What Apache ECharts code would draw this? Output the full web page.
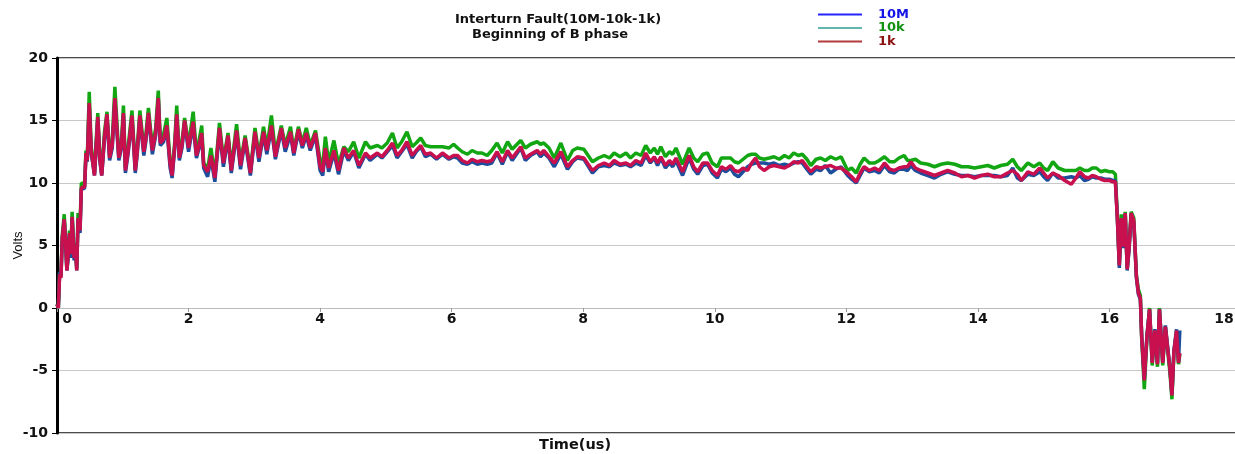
<!DOCTYPE html>
<html><head><meta charset="utf-8">
<script src="https://cdn.jsdelivr.net/npm/echarts@6/dist/echarts.min.js"></script>
<style>html,body{margin:0;padding:0;background:#fff;overflow:hidden}#c{width:1241px;height:454px}</style>
</head><body><div id="c"></div>
<script>
const titleLine1 = 'Interturn Fault(10M-10k-1k)';
const titleLine2 = 'Beginning of B phase';
const xName = 'Time(us)';
const yName = 'Volts';
const seriesNames = ['10M', '10k', '1k'];

const time = [
0.00,0.02,0.04,0.06,0.08,0.11,0.13,0.15,0.17,0.19,
0.21,0.23,0.26,0.28,0.30,0.32,0.35,0.37,0.42,0.44,
0.46,0.49,0.52,0.54,0.57,0.59,0.62,0.65,0.68,0.72,
0.76,0.80,0.84,0.88,0.94,0.98,1.01,1.04,1.08,1.14,
1.19,1.22,1.26,1.32,1.35,1.39,1.45,1.50,1.54,1.57,
1.62,1.67,1.72,1.75,1.79,1.82,1.86,1.90,1.94,2.00,
2.07,2.12,2.16,2.20,2.23,2.29,2.34,2.40,2.47,2.53,
2.60,2.65,2.73,2.79,2.86,2.94,3.01,3.07,3.14,3.19,
3.26,3.32,3.41,3.47,3.55,3.60,3.67,3.73,3.79,3.85,
3.93,4.00,4.04,4.08,4.13,4.21,4.28,4.36,4.43,4.51,
4.59,4.69,4.76,4.87,4.94,5.02,5.10,5.17,5.24,5.32,
5.40,5.46,5.53,5.60,5.68,5.77,5.86,5.96,6.03,6.09,
6.16,6.24,6.31,6.39,6.46,6.54,6.61,6.69,6.77,6.85,
6.92,7.05,7.12,7.20,7.30,7.35,7.40,7.48,7.56,7.66,
7.76,7.84,7.91,8.01,8.14,8.23,8.32,8.40,8.47,8.56,
8.65,8.72,8.80,8.88,8.95,9.02,9.08,9.13,9.18,9.25,
9.31,9.36,9.41,9.51,9.61,9.68,9.74,9.82,9.89,9.96,
10.04,10.10,10.17,10.24,10.30,10.36,10.43,10.50,10.56,10.62,
10.68,10.75,10.83,10.90,10.98,11.06,11.13,11.20,11.27,11.33,
11.40,11.46,11.54,11.61,11.68,11.76,11.84,11.92,12.02,12.08,
12.15,12.21,12.27,12.35,12.43,12.50,12.58,12.66,12.73,12.80,
12.88,12.93,12.98,13.05,13.13,13.24,13.34,13.44,13.54,13.65,
13.75,13.85,13.95,14.05,14.15,14.25,14.35,14.45,14.53,14.60,
14.66,14.76,14.85,14.94,15.00,15.06,15.14,15.22,15.32,15.42,
15.49,15.55,15.62,15.68,15.74,15.80,15.87,15.93,16.00,16.05,
16.09,16.12,16.15,16.18,16.21,16.24,16.27,16.30,16.33,16.37,
16.41,16.44,16.47,16.49,16.53,16.57,16.61,16.65,16.69,16.73,
16.76,16.81,16.85,16.88,16.92,16.95,16.98,17.02,17.05,17.07
];

const v1k = [
0.3,0.0,2.7,2.4,5.6,7.1,5.3,3.0,4.2,6.0,
4.3,7.3,4.0,5.0,3.0,7.2,6.2,9.6,9.7,12.4,
11.8,16.4,12.6,11.8,10.6,12.5,15.3,12.0,10.6,13.6,
15.5,12.0,13.0,16.8,12.0,13.0,15.6,11.0,12.5,15.4,
11.0,12.5,15.4,12.5,13.5,15.6,12.6,14.0,16.8,13.2,
13.5,14.6,11.5,10.6,13.0,15.5,12.0,13.0,15.0,12.8,
14.9,12.2,13.0,14.0,11.4,10.9,12.2,10.4,14.4,11.6,
13.8,11.0,14.2,11.4,13.6,10.8,14.1,12.0,14.1,12.6,
14.6,12.1,14.4,12.8,14.1,12.4,14.3,13.0,14.0,12.8,
14.0,11.3,10.9,12.8,11.2,12.6,11.0,12.8,12.0,12.6,
11.4,12.4,12.0,12.4,12.1,12.6,13.2,12.2,12.6,13.3,
12.2,12.6,13.0,12.3,12.4,12.0,12.4,12.0,12.2,12.2,
11.8,11.6,11.9,11.7,11.8,11.7,11.8,12.5,11.7,12.6,
12.0,12.9,12.0,12.3,12.6,12.3,12.6,12.1,11.6,12.5,
11.3,11.8,12.1,12.0,11.0,11.4,11.6,11.4,11.8,11.5,
11.6,11.4,11.8,11.6,12.4,11.7,12.1,11.6,12.1,11.4,
11.8,11.5,12.0,10.9,12.2,11.3,10.9,11.6,11.6,11.0,
10.6,11.3,11.1,11.4,11.0,10.9,11.2,11.0,11.6,12.0,
11.3,11.0,11.3,11.4,11.3,11.2,11.4,11.7,11.6,11.8,
11.3,10.9,11.3,11.2,11.3,11.4,11.2,11.2,10.8,10.5,
10.1,10.8,11.3,11.0,11.2,11.0,11.6,11.1,11.0,11.2,
11.3,11.3,11.7,11.2,11.0,10.8,10.6,10.8,11.0,10.8,
10.5,10.6,10.4,10.6,10.7,10.5,10.5,10.8,11.0,10.7,
10.2,10.9,10.7,11.2,10.8,10.4,10.8,10.6,10.2,9.9,
10.4,10.9,10.5,10.4,10.6,10.5,10.3,10.2,10.2,10.1,
10.1,7.2,3.4,7.2,4.9,7.6,3.1,4.9,7.6,7.0,
2.5,1.2,0.8,-2.3,-5.8,-2.3,-0.1,-4.4,-1.8,-4.5,
-0.1,-4.4,-1.5,-1.4,-4.9,-7.0,-3.5,-1.8,-4.4,-3.6
];

const v10k = [
0.3,0.0,2.8,2.6,5.8,7.5,5.5,3.1,4.4,6.2,
4.5,7.7,4.3,5.2,3.2,7.6,6.5,10.0,9.9,12.6,
12.0,17.3,12.9,12.0,10.8,12.9,15.6,12.3,10.8,14.0,
15.7,12.2,13.4,17.7,12.2,13.3,16.2,11.2,12.8,15.8,
11.2,12.8,15.8,12.7,13.8,16.0,12.8,14.4,17.4,13.4,
13.9,15.2,11.7,10.8,13.3,16.2,12.2,13.3,15.2,13.0,
15.7,12.4,13.4,14.6,11.6,11.1,12.8,10.6,14.8,11.8,
14.0,11.2,14.7,11.6,13.8,11.0,14.4,12.2,14.5,12.8,
15.4,12.4,14.6,13.0,14.5,12.6,14.5,13.2,14.4,13.0,
14.2,11.8,11.4,13.7,11.6,13.4,11.5,12.9,12.5,13.3,
12.0,13.3,12.8,13.0,12.8,13.2,14.0,12.8,13.3,14.1,
12.9,13.2,13.6,13.0,12.9,12.9,12.9,12.8,13.1,12.8,
12.5,12.3,12.6,12.4,12.4,12.2,12.6,13.2,12.4,13.3,
12.7,13.4,12.8,13.1,13.3,13.1,13.2,12.8,12.0,13.2,
11.8,12.6,12.8,12.7,11.7,12.0,12.2,12.0,12.4,12.1,
12.4,12.0,12.4,12.2,13.0,12.4,12.8,12.3,12.9,12.1,
12.5,12.3,12.8,11.5,12.8,12.0,11.7,12.3,12.4,11.6,
11.3,12.0,12.0,12.0,11.7,11.6,11.9,12.2,12.3,12.3,
12.0,11.9,12.0,12.1,11.9,12.2,12.0,12.4,12.2,12.3,
11.9,11.4,11.9,12.0,11.8,12.1,11.9,12.1,11.0,11.2,
10.8,11.5,12.0,11.6,11.6,11.8,12.1,11.7,11.7,12.0,
12.2,11.8,11.8,11.9,11.6,11.5,11.3,11.5,11.6,11.5,
11.3,11.3,11.2,11.3,11.4,11.2,11.4,11.5,11.9,11.3,
11.0,11.6,11.3,11.6,11.2,11.0,11.7,11.2,11.0,11.0,
11.0,11.2,11.0,11.0,11.2,11.2,10.9,11.0,10.9,10.9,
10.7,7.4,3.5,7.5,5.0,7.7,3.2,5.0,7.7,7.2,
2.6,1.5,1.0,-2.4,-6.5,-2.4,0.0,-4.6,-1.8,-4.7,
0.0,-4.6,-1.5,-1.4,-5.2,-7.3,-3.6,-1.9,-4.5,-3.7
];

const v10M = [
0.3,0.0,2.9,2.5,5.5,7.0,5.2,3.0,4.0,5.9,
4.0,7.2,3.8,4.8,3.0,7.1,6.0,9.5,9.6,12.2,
11.7,16.2,12.3,11.7,10.6,12.4,15.1,11.8,10.6,13.4,
15.3,11.8,12.8,16.6,11.8,12.8,15.4,10.8,12.3,15.2,
10.8,12.3,15.2,12.2,13.3,15.4,12.3,13.8,16.6,13.0,
13.3,14.4,11.2,10.4,12.8,15.3,11.8,12.8,14.8,12.5,
14.7,12.0,12.8,13.8,11.2,10.5,12.0,10.1,14.2,11.3,
13.6,10.8,14.0,11.1,13.4,10.6,13.9,11.7,13.9,12.3,
14.4,11.9,14.2,12.5,13.9,12.2,14.1,12.8,13.8,12.6,
13.8,11.0,10.6,12.6,10.9,12.4,10.7,12.6,11.8,12.5,
11.2,12.3,11.8,12.3,12.0,12.5,13.0,12.0,12.5,13.1,
12.0,12.5,12.9,12.1,12.3,11.9,12.3,11.9,12.1,12.0,
11.6,11.5,11.7,11.5,11.6,11.5,11.6,12.4,11.5,12.5,
11.8,12.8,11.8,12.2,12.5,12.1,12.4,12.0,11.3,12.3,
11.1,11.7,12.0,11.9,10.8,11.3,11.4,11.3,11.6,11.4,
11.5,11.3,11.6,11.4,12.2,11.6,12.0,11.4,12.0,11.2,
11.6,11.3,11.8,10.6,12.0,11.1,10.7,11.4,11.5,10.8,
10.4,11.1,10.9,11.2,10.7,10.5,10.9,11.3,11.5,11.6,
11.6,11.6,11.5,11.6,11.4,11.5,11.4,11.6,11.7,11.6,
11.1,10.7,11.1,11.0,11.4,10.8,11.1,11.3,10.6,10.3,
10.0,10.6,11.2,10.9,11.0,10.8,11.4,10.9,10.8,11.1,
11.1,11.0,11.4,11.0,10.8,10.6,10.4,10.7,10.9,10.7,
10.6,10.6,10.5,10.6,10.6,10.6,10.5,10.6,11.2,10.4,
10.2,10.7,10.6,10.9,10.5,10.2,10.8,10.4,10.4,10.5,
10.4,10.6,10.2,10.3,10.5,10.4,10.4,10.3,10.3,10.2,
10.2,7.2,3.2,7.0,4.8,7.5,3.0,4.8,7.5,6.8,
2.4,1.1,0.7,-2.2,-5.7,-2.2,-0.1,-4.3,-1.7,-4.4,
-0.1,-4.3,-1.4,-1.3,-4.8,-6.9,-3.4,-1.7,-4.3,-1.8
];

const BOLD = 'DejaVu Sans, Verdana, sans-serif';
const REG = 'Liberation Sans, Arial, sans-serif';
function pairs(vals) {
  const n = Math.min(time.length, vals.length);
  const out = [];
  for (let i = 0; i < n; i++) out.push([time[i], vals[i]]);
  return out;
}

const chart = echarts.init(document.getElementById('c'), null, { renderer: 'canvas' });
chart.setOption({
  animation: false,
  backgroundColor: '#ffffff',
  title: [
    { text: titleLine1, left: 455, top: 13, padding: 0,
      textStyle: { fontFamily: BOLD, fontWeight: 'bold', fontSize: 13, color: '#111' } },
    { text: titleLine2, left: 472, top: 28, padding: 0,
      textStyle: { fontFamily: BOLD, fontWeight: 'bold', fontSize: 13, color: '#111' } },
    { text: xName, left: 539, top: 438, padding: 0,
      textStyle: { fontFamily: BOLD, fontWeight: 'bold', fontSize: 14.5, color: '#111' } }
  ],
  legend: {
    orient: 'vertical', left: 818, top: 8, padding: 0,
    itemWidth: 44, itemHeight: 2, itemGap: 0.5, icon: 'rect',
    selectedMode: false,
    textStyle: { fontFamily: BOLD, fontWeight: 'bold', fontSize: 13, lineHeight: 13, padding: [0, 0, 0, 11] },
    data: [
      { name: seriesNames[0], itemStyle: { color: '#2424ff' }, textStyle: { color: '#1414e6' } },
      { name: seriesNames[1], itemStyle: { color: '#62b6ae' }, textStyle: { color: '#119011' } },
      { name: seriesNames[2], itemStyle: { color: '#b23a3a' }, textStyle: { color: '#8c1212' } }
    ]
  },
  grid: { left: 57, right: 0, top: 58, bottom: 21, containLabel: false, outerBoundsMode: 'none',
    show: true, borderColor: '#111', borderWidth: 1.5, backgroundColor: '#fff' },
  xAxis: {
    type: 'value', min: 0, max: 18, interval: 2, position: 'bottom', offset: -125,
    axisLine: { show: true, onZero: false, lineStyle: { color: '#bcbcbc', width: 1 } },
    axisTick: { show: true, length: 4, lineStyle: { color: '#999' } },
    splitLine: { show: false },
    axisLabel: {
      margin: 4, fontFamily: BOLD, fontWeight: 'bold', fontSize: 14, color: '#111',
      formatter: function (v) { return v === 0 ? '{a|0}' : (v === 18 ? '{b|18}' : String(v)); },
      rich: {
        a: { fontFamily: BOLD, fontWeight: 'bold', fontSize: 14, color: '#111', padding: [0, 0, 0, 20] },
        b: { fontFamily: BOLD, fontWeight: 'bold', fontSize: 14, color: '#111', padding: [0, 34, 0, 0] }
      }
    }
  },
  yAxis: {
    type: 'value', min: -10, max: 20, interval: 5,
    name: yName, nameLocation: 'middle', nameGap: 32, nameMoveOverlap: false,
    nameTextStyle: { fontFamily: REG, fontSize: 13, color: '#111' },
    axisLine: { show: true, onZero: false, lineStyle: { color: '#000', width: 3 } },
    axisTick: { show: true, length: 5, lineStyle: { color: '#000' } },
    axisLabel: { margin: 9, fontFamily: BOLD, fontWeight: 'bold', fontSize: 14, color: '#111' },
    splitLine: { show: true, lineStyle: { color: '#c8c8c8', width: 1 } }
  },
  series: [
    { name: seriesNames[1], type: 'line', data: pairs(v10k), symbol: 'none', showSymbol: false, z: 2,
      lineStyle: { color: '#12a612', width: 3.5 }, itemStyle: { color: '#12a612' } },
    { name: seriesNames[0], type: 'line', data: pairs(v10M), symbol: 'none', showSymbol: false, z: 3,
      lineStyle: { color: '#1d4e9c', width: 3.5 }, itemStyle: { color: '#1d4e9c' } },
    { name: seriesNames[2], type: 'line', data: pairs(v1k), symbol: 'none', showSymbol: false, z: 4,
      lineStyle: { color: '#c8104f', width: 3.5 }, itemStyle: { color: '#c8104f' } }
  ]
});
</script>
</body></html>
